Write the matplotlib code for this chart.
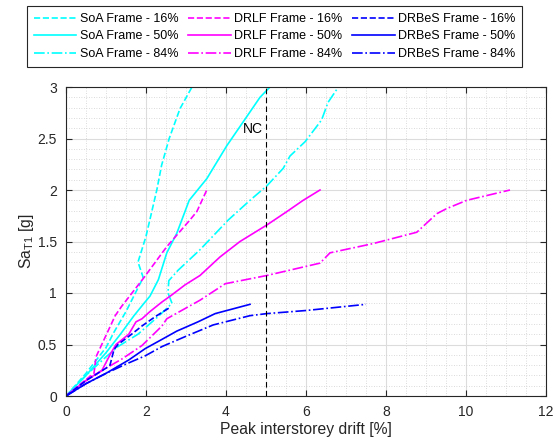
import matplotlib
matplotlib.use("Agg")
import matplotlib.pyplot as plt
from matplotlib.ticker import MultipleLocator, FuncFormatter

plt.rcParams["font.family"] = ["Liberation Sans", "DejaVu Sans"]
plt.rcParams["font.size"] = 10

# drift [%] vs Sa_T1 [g]
soa16_x = [0, 0.5, 1.0, 1.2, 1.5, 1.93, 1.8, 2.0, 2.27, 2.39, 2.58, 2.85, 3.15]
soa16_y = [0, 0.22, 0.47, 0.62, 0.82, 1.15, 1.3, 1.55, 2.0, 2.24, 2.5, 2.79, 3.0]
soa50_x = [0, 0.5, 1.0, 1.36, 1.7, 1.95, 2.1, 2.31, 2.52, 2.77, 3.08, 3.52, 4.02, 4.48, 4.85, 5.1]
soa50_y = [0, 0.2, 0.42, 0.6, 0.78, 0.9, 0.97, 1.13, 1.39, 1.58, 1.9, 2.11, 2.43, 2.69, 2.9, 3.0]
soa84_x = [0, 0.5, 1.0, 1.3, 1.8, 2.3, 2.65, 2.55, 2.57, 2.8, 3.35, 4.06, 4.6, 5.02, 5.43, 5.6, 5.98, 6.39, 6.55, 6.81]
soa84_y = [0, 0.2, 0.38, 0.48, 0.6, 0.77, 0.9, 1.0, 1.12, 1.22, 1.42, 1.71, 1.9, 2.04, 2.21, 2.33, 2.47, 2.68, 2.85, 3.0]

drlf16_x = [0, 0.5, 0.7, 0.75, 1.23, 1.39, 1.93, 2.52, 3.1, 3.27, 3.52]
drlf16_y = [0, 0.16, 0.22, 0.38, 0.78, 0.87, 1.14, 1.45, 1.71, 1.79, 2.0]
drlf50_x = [0, 0.5, 0.9, 1.1, 1.25, 1.57, 1.75, 1.9, 2.1, 2.39, 2.64, 2.98, 3.35, 3.85, 4.35, 5.02, 5.52, 5.93, 6.35]
drlf50_y = [0, 0.15, 0.25, 0.4, 0.5, 0.6, 0.72, 0.75, 0.82, 0.91, 0.98, 1.08, 1.17, 1.35, 1.5, 1.66, 1.79, 1.9, 2.0]
drlf84_x = [0, 0.5, 1.0, 1.4, 1.9, 2.4, 2.52, 3.35, 3.98, 5.02, 6.35, 6.6, 7.68, 8.77, 9.27, 9.52, 10.02, 11.1]
drlf84_y = [0, 0.15, 0.27, 0.36, 0.49, 0.68, 0.75, 0.93, 1.09, 1.17, 1.29, 1.39, 1.48, 1.59, 1.77, 1.82, 1.9, 2.0]

drbes16_x = [0, 0.5, 1.0, 1.1, 1.2, 1.3, 1.64, 1.9, 2.23, 2.6]
drbes16_y = [0, 0.15, 0.27, 0.3, 0.45, 0.5, 0.6, 0.68, 0.77, 0.86]
drbes50_x = [0, 0.5, 1.0, 1.57, 1.98, 2.4, 2.77, 3.3, 3.73, 4.6]
drbes50_y = [0, 0.12, 0.22, 0.35, 0.46, 0.55, 0.63, 0.72, 0.8, 0.89]
drbes84_x = [0, 0.5, 1.0, 1.5, 1.98, 2.4, 3.0, 3.68, 4.6, 5.02, 6.0, 7.5]
drbes84_y = [0, 0.12, 0.22, 0.31, 0.39, 0.48, 0.58, 0.69, 0.78, 0.8, 0.83, 0.89]

nc_drift = 5

series = [
    ("SoA Frame - 16%", soa16_x, soa16_y, "#00ffff", "--"),
    ("SoA Frame - 50%", soa50_x, soa50_y, "#00ffff", "-"),
    ("SoA Frame - 84%", soa84_x, soa84_y, "#00ffff", "-."),
    ("DRLF Frame - 16%", drlf16_x, drlf16_y, "#ff00ff", "--"),
    ("DRLF Frame - 50%", drlf50_x, drlf50_y, "#ff00ff", "-"),
    ("DRLF Frame - 84%", drlf84_x, drlf84_y, "#ff00ff", "-."),
    ("DRBeS Frame - 16%", drbes16_x, drbes16_y, "#0000ff", "--"),
    ("DRBeS Frame - 50%", drbes50_x, drbes50_y, "#0000ff", "-"),
    ("DRBeS Frame - 84%", drbes84_x, drbes84_y, "#0000ff", "-."),
]

fig = plt.figure(figsize=(5.56, 4.43), dpi=100)
ax = fig.add_axes([66 / 556, 47 / 443, 480 / 556, 309 / 443])

handles = []
for lab, x, y, c, ls in series:
    h, = ax.plot(x, y, color=c, ls=ls, lw=1.2, label=lab)
    handles.append(h)

ax.axvline(nc_drift, color="k", ls=(0, (5, 3)), lw=0.8)
ax.text(4.93, 2.59, "NC", ha="right", va="center", fontsize=10)

ax.set_xlim(0, 12)
ax.set_ylim(0, 3)
ax.xaxis.set_major_locator(MultipleLocator(2))
ax.xaxis.set_minor_locator(MultipleLocator(0.5))
ax.yaxis.set_major_locator(MultipleLocator(0.5))
ax.yaxis.set_minor_locator(MultipleLocator(0.1))
ax.yaxis.set_major_formatter(FuncFormatter(lambda v, p: f"{v:g}"))
ax.grid(which="major", color="#dcdcdc", lw=0.8)
ax.grid(which="minor", color="#cfcfcf", lw=0.6, ls=(0, (1, 2)))
ax.set_axisbelow(True)
ax.tick_params(which="both", direction="in", top=True, right=True, colors="#262626", labelcolor="#262626")
ax.tick_params(which="major", length=4, pad=6.5)
ax.tick_params(which="minor", length=0)
for s in ax.spines.values():
    s.set_color("#262626")
    s.set_linewidth(0.8)

ax.set_xlabel("Peak interstorey drift [%]", fontsize=11.3, color="#262626", labelpad=2)
ax.set_ylabel(r"Sa$_{\mathregular{T1}}$ [g]", fontsize=11.3, color="#262626", labelpad=1)

leg = fig.legend(handles=handles, ncol=3, loc="upper left",
                 bbox_to_anchor=(27 / 556, 1 - 6 / 443), fontsize=9,
                 handlelength=3.4, handletextpad=0.25, columnspacing=0.8,
                 labelspacing=0.44, borderpad=0.55, borderaxespad=0,
                 fancybox=False, framealpha=1)
leg.get_frame().set_edgecolor("#262626")
leg.get_frame().set_linewidth(0.8)

fig.savefig("out.png", dpi=100)
